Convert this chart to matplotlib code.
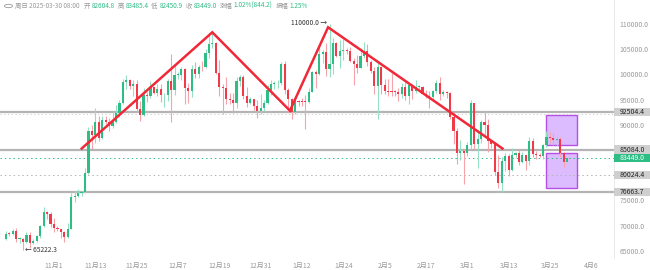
import matplotlib
matplotlib.use("Agg")
import matplotlib.pyplot as plt
import matplotlib.transforms as mtransforms
from matplotlib.patches import Rectangle, Circle
import pandas as pd

plt.rcParams['font.family'] = ['Noto Sans CJK SC', 'DejaVu Sans']

start_date = '2024-10-18'
opens = [67420, 68390, 68360, 69000, 67370, 67380, 66680, 68160, 66640, 67040, 67940, 69910, 72720, 72340,
         70220, 69480, 69330, 68740, 67810, 69350, 75630, 75900, 76540, 76690, 80400, 88700, 87950, 90500,
         87300, 91050, 90600, 89850, 90460, 92340, 94340, 98400, 98960, 97700, 98000, 93100, 91980, 95960,
         95640, 97460, 96400, 97200, 95860, 96000, 98770, 96950, 99900, 99920, 101170, 97400, 96680, 101170,
         100040, 101460, 101370, 104300, 106030, 106140, 100190, 97460, 97230, 95190, 94830, 94280, 98700,
         99400, 95790, 94300, 95170, 93720, 92790, 93430, 94400, 96880, 98110, 98230, 98310, 102080, 96920,
         95040, 92480, 94700, 94560, 94520, 94500, 96530, 100500, 99990, 104080, 104410, 101090, 102010,
         106150, 103650, 104700, 104800, 104700, 102600, 102080, 101300, 103700, 104730, 102400, 100650,
         97690, 101400, 97870, 96620, 96580, 96530, 96480, 96130, 97430, 95780, 97870, 96620, 97510, 97570,
         96120, 95770, 95540, 96640, 98330, 96130, 96580, 96280, 91550, 88740, 84350, 84710, 84370, 86030,
         94270, 86120, 87220, 90620, 89960, 86740, 86150, 80600, 78530, 82860, 83720, 81070, 83970, 84340,
         82580, 84030, 82720, 86850, 84170, 84040, 83830, 86080, 87500, 87400, 86900, 87200, 84350, 82604.8]
highs = [68980, 68700, 69400, 69500, 67800, 67450, 68800, 68800, 67400, 68200, 70200, 73600, 72900, 72700,
         71600, 69900, 69400, 69000, 70500, 76400, 76900, 77200, 76900, 81500, 89600, 89900, 93400, 91800,
         91800, 91800, 91400, 92600, 94000, 94900, 99000, 99800, 99000, 98800, 98900, 94800, 97300, 96600,
         98700, 97500, 98000, 98100, 96300, 99000, 104100, 101900, 100500, 101400, 101200, 98200, 101900,
         102500, 101900, 102600, 105100, 107800, 108353, 106500, 102800, 98000, 99500, 96400, 96400, 99400,
         99900, 99900, 97500, 95500, 95200, 94900, 96200, 94900, 97800, 98900, 98700, 98800, 102500, 102700,
         97300, 95400, 95800, 94900, 95400, 95900, 97300, 100700, 100800, 105900, 104900, 106300, 110000,
         107200, 106400, 106800, 107100, 105300, 105500, 103200, 103800, 104800, 106400, 106000, 102800,
         101400, 102500, 101700, 99100, 99000, 100200, 96900, 97300, 98300, 98500, 98100, 98100, 98800,
         97900, 97700, 97000, 96700, 97000, 98800, 99500, 96900, 96700, 96500, 92500, 89300, 87000, 85100,
         86500, 95000, 94400, 88900, 91000, 92800, 91200, 86900, 86500, 84000, 83600, 84400, 84300, 85300,
         84700, 85000, 84700, 84100, 87500, 87400, 84800, 84500, 86100, 88800, 88500, 88300, 87800, 87500,
         84600, 83485.4]
lows = [67100, 68000, 68100, 66800, 66600, 65222.3, 66500, 65500, 66400, 66800, 67500, 69700, 71400, 69700,
        68800, 69000, 67500, 66800, 67500, 69300, 74700, 75600, 75900, 76500, 80200, 85100, 86300, 86700,
        87100, 90100, 88800, 89400, 90400, 91500, 94100, 97200, 97200, 95700, 92600, 90800, 91800, 94600,
        95400, 96200, 95800, 94500, 93600, 94700, 90500, 95900, 99000, 98800, 94200, 94300, 95600, 99300,
        99200, 100600, 101200, 103300, 105300, 100000, 95700, 92200, 94200, 94200, 92400, 93400, 97600,
        95200, 93500, 94100, 93000, 91300, 92100, 92800, 94200, 96000, 97200, 97300, 97900, 96100, 92500,
        91200, 92200, 93800, 93700, 89200, 94300, 96500, 97300, 99900, 102300, 99600, 99500, 100100, 103400,
        101300, 102800, 104100, 102500, 97800, 100300, 101300, 103300, 101600, 100300, 96200, 91200, 96200,
        96200, 95700, 95700, 95700, 94700, 95300, 94900, 94100, 95200, 96300, 97100, 96100, 95300, 93400,
        95200, 96400, 94900, 95800, 95300, 91200, 86100, 82300, 83000, 78200, 83800, 85100, 85100, 81400,
        86300, 87800, 84700, 85300, 80000, 77400, 76663.7, 80900, 79900, 80800, 83600, 82000, 82400, 81100,
        82000, 83600, 83200, 83600, 83300, 85500, 86300, 85900, 85800, 83600, 81600, 82450.9]
closes = [68390, 68360, 69000, 67370, 67380, 66680, 68160, 66640, 67040, 67940, 69910, 72720, 72340, 70220,
          69480, 69330, 68740, 67810, 69350, 75630, 75900, 76540, 76690, 80400, 88700, 87950, 90500, 87300,
          91050, 90600, 89850, 90460, 92340, 94340, 98400, 98960, 97700, 98000, 93100, 91980, 95960, 95640,
          97460, 96400, 97200, 95860, 96000, 98770, 96950, 99900, 99920, 101170, 97400, 96680, 101170,
          100040, 101460, 101370, 104300, 106030, 106140, 100190, 97460, 97230, 95190, 94830, 94280, 98700,
          99400, 95790, 94300, 95170, 93720, 92790, 93430, 94400, 96880, 98110, 98230, 98310, 102080, 96920,
          95040, 92480, 94700, 94560, 94520, 94500, 96530, 100500, 99990, 104080, 104410, 101090, 102010,
          106150, 103650, 104700, 104800, 104700, 102600, 102080, 101300, 103700, 104730, 102400, 100650,
          97690, 101400, 97870, 96620, 96580, 96530, 96480, 96130, 97430, 95780, 97870, 96620, 97510, 97570,
          96120, 95770, 95540, 96640, 98330, 96130, 96580, 96280, 91550, 88740, 84350, 84710, 84370, 86030,
          94270, 86120, 87220, 90620, 89960, 86740, 86150, 80600, 78530, 82860, 83720, 81070, 83970, 84340,
          82580, 84030, 82720, 86850, 84170, 84040, 83830, 86080, 87500, 87400, 86900, 87200, 84350, 82604.8,
          83449.0]

level_values = [92504.4, 85084.0, 76663.7]
current_price = 83449.0
dotted_level = 80024.4
zigzag_dates = ['2024-11-09 01:00', '2024-12-16 23:00', '2025-01-08 12:00', '2025-01-19 14:00', '2025-03-11 05:00']
zigzag_prices = [85300, 108353, 92800, 109350, 85300]
box_dates = ['2025-03-23 22:00', '2025-04-01 22:00']
box_upper = [85990, 91940]
box_lower = [77460, 84400]
tick_dates = ['2024-11-01', '2024-11-13', '2024-11-25', '2024-12-07', '2024-12-19', '2024-12-31', '2025-01-12',
              '2025-01-24', '2025-02-05', '2025-02-17', '2025-03-01', '2025-03-13', '2025-03-25', '2025-04-06']
tick_labels = ['11月1', '11月13', '11月25', '12月7', '12月19', '12月31', '1月12',
               '1月24', '2月5', '2月17', '3月1', '3月13', '3月25', '4月6']
y_ticks = [65000, 70000, 75000, 80000, 85000, 90000, 95000, 100000, 105000, 110000]

assert len(opens) == len(highs) == len(lows) == len(closes), (len(opens), len(highs), len(lows), len(closes))

ref = pd.Timestamp('2024-11-01')
def dnum(s):
    return (pd.Timestamp(s) - ref) / pd.Timedelta(days=1)

n = len(opens)
dates = pd.date_range(start_date, periods=n, freq='D')
xs = [(d - ref) / pd.Timedelta(days=1) for d in dates]

GREEN = '#2ebd85'
RED = '#f03a4a'
GREEN_W = '#95dfc2'
RED_W = '#f6a3ab'

fig = plt.figure(figsize=(6.5, 2.7), dpi=100)
ax = fig.add_axes([0, 12 / 270, 614 / 650, 258 / 270])
ax.set_xlim(-15.68, 162.6)
ax.set_ylim(63571, 114762)

# purple boxes
bx0, bx1 = dnum(box_dates[0]), dnum(box_dates[1])
for lo, hi in (box_upper, box_lower):
    ax.add_patch(Rectangle((bx0, lo), bx1 - bx0, hi - lo, fc='#dcbcff', ec='#b450e6', lw=1.0, zorder=1))

# horizontal levels
for lv in level_values:
    ax.axhline(lv, color='#b4b4b4', lw=1.6, zorder=1.5)
ax.axhline(level_values[0] - 300, color='#c8c8c8', lw=0.6, ls=(0, (1.5, 3)), zorder=1.5)
ax.axhline(current_price, color=GREEN, lw=0.7, ls=(0, (1.5, 3)), zorder=1.5)
ax.axhline(dotted_level, color='#b4b4b4', lw=0.7, ls=(0, (1.5, 3)), zorder=1.5)

# candles
bw = 0.62
for x, o, h, l, c in zip(xs, opens, highs, lows, closes):
    up = c >= o
    ax.vlines(x, l, h, color=GREEN_W if up else RED_W, lw=0.8, zorder=2)
    b0, b1 = min(o, c), max(o, c)
    if b1 - b0 < 150:
        b1 = b0 + 150
    ax.add_patch(Rectangle((x - bw / 2, b0), bw, b1 - b0, fc=GREEN if up else RED, ec='none', zorder=3))

# zigzag
ax.plot([dnum(d) for d in zigzag_dates], zigzag_prices, color='#f02838', lw=1.8, zorder=4,
        solid_joinstyle='miter')

# high/low markers
hi_i = max(range(n), key=lambda i: highs[i])
lo_i = min(range(n), key=lambda i: lows[i])
ax.annotate(f'{highs[hi_i]:.1f} →', (xs[hi_i], highs[hi_i]), xytext=(-1.5, 1), textcoords='offset points',
            ha='right', va='center', fontsize=4.8, color='#333333', zorder=5)
ax.annotate(f'← {lows[lo_i]:.1f}', (xs[lo_i], lows[lo_i]), xytext=(1.5, 0), textcoords='offset points',
            ha='left', va='center', fontsize=4.8, color='#333333', zorder=5)

# axes styling
for s in ['top', 'left', 'bottom']:
    ax.spines[s].set_visible(False)
ax.spines['right'].set_color('#e6e6e6')
ax.spines['right'].set_linewidth(0.6)
ax.set_xticks([dnum(d) for d in tick_dates])
ax.set_xticklabels(tick_labels)
ax.yaxis.tick_right()
ax.set_yticks(y_ticks)
ax.set_yticklabels([f'{v:.1f}' for v in y_ticks])
ax.tick_params(axis='both', length=0, labelsize=5.0, colors='#9a9a9a')
ax.tick_params(axis='x', pad=3)
ax.tick_params(axis='y', pad=4)

# right-axis price labels
trans = mtransforms.blended_transform_factory(ax.transAxes, ax.transData)
box_w = 36 / 614
box_h = 8.5 / 5.04 * 1000
for lv in level_values + [dotted_level]:
    ax.add_patch(Rectangle((1.0, lv - box_h / 2), box_w, box_h, transform=trans, fc='#cfcfcf', ec='none',
                           clip_on=False, zorder=6))
    ax.text(1.0 + box_w / 2, lv, f'{lv:.1f}', transform=trans, ha='center', va='center', fontsize=5.0,
            color='#222222', zorder=7, clip_on=False)
ax.add_patch(Rectangle((1.0, current_price - box_h / 2), box_w, box_h, transform=trans, fc=GREEN, ec='none',
                       clip_on=False, zorder=6))
ax.text(1.0 + box_w / 2, current_price, f'{current_price:.1f}', transform=trans, ha='center', va='center',
        fontsize=5.0, color='white', zorder=7, clip_on=False)

# header laid out sequentially
hy = 1 - 6 / 270
fig.patches.append(Circle((8.5 / 650, hy), 4.0 / 650, transform=fig.transFigure, fc='none', ec='#999999',
                          lw=0.6))
header = [('周日 2025-03-30 08:00', '#999999', 4), ('开', '#999999', 1.5), ('82604.8', GREEN, 3),
          ('高', '#999999', 1.5), ('83485.4', GREEN, 3), ('低', '#999999', 1.5), ('82450.9', GREEN, 3),
          ('收', '#999999', 1.5), ('83449.0', GREEN, 3), ('涨幅', '#999999', 1.5),
          ('1.02%(844.2)', GREEN, 3), ('振幅', '#999999', 1.5), ('1.25%', GREEN, 0)]
renderer = fig.canvas.get_renderer()
cx = 15.0
for t, col, gap in header:
    txt = fig.text(cx / 650, hy, t, ha='left', va='center', fontsize=4.6, color=col)
    w = txt.get_window_extent(renderer).width
    cx += w + gap

fig.savefig('out.png', dpi=100)
